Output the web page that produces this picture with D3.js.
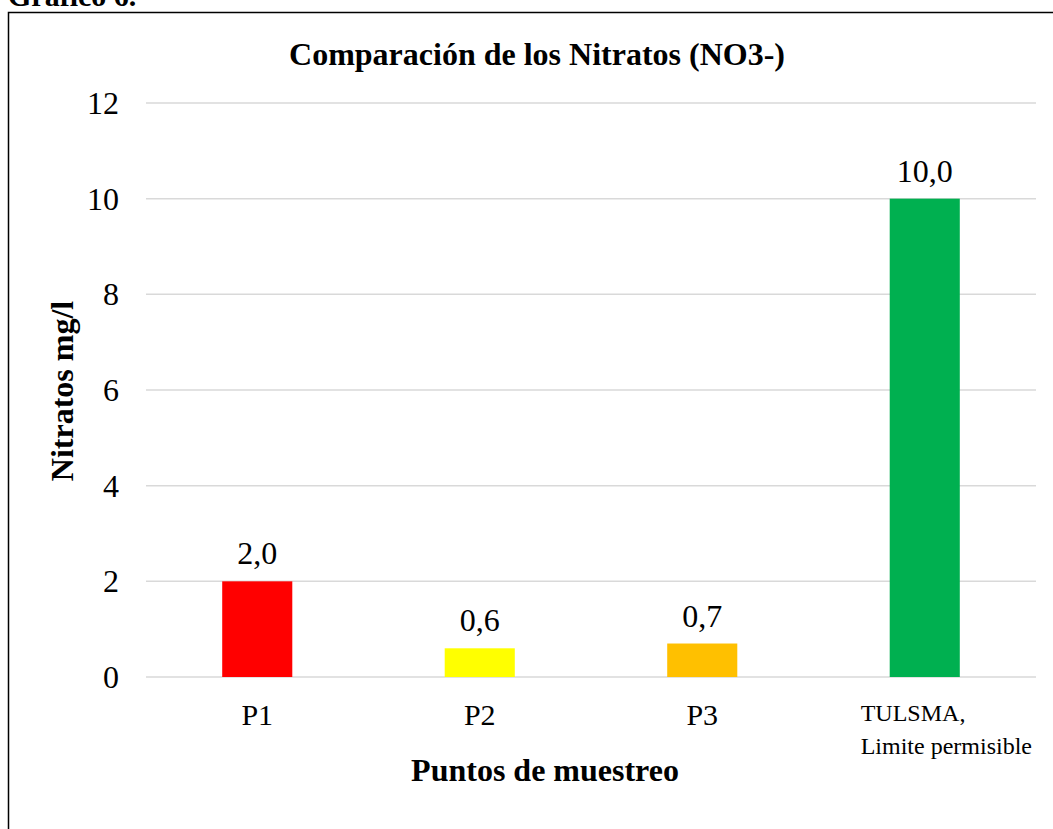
<!DOCTYPE html>
<html>
<head>
<meta charset="utf-8">
<script src="https://cdn.jsdelivr.net/npm/d3@7"></script>
<style>
  body { margin: 0; background: #fff; }
  svg { display: block; font-family: "Liberation Serif", "Times New Roman", serif; }
</style>
</head>
<body>
<svg id="chart" width="1053" height="829"></svg>
<script>
const categories = ['P1', 'P2', 'P3', 'TULSMA']
const values = [2.0, 0.6, 0.7, 10.0]
const colors = ['#ff0000', '#ffff00', '#ffc000', '#00b050']
const yTicks = [0, 2, 4, 6, 8, 10, 12]

let svg = d3.select('#chart')

// outer frame and caption
svg.append('rect')
  .attr('x', 8.5).attr('y', 12.5)
  .attr('width', 1060).attr('height', 830)
  .attr('fill', 'none').attr('stroke', '#000').attr('stroke-width', 1.5)

svg.append('text')
  .attr('x', 8).attr('y', 6)
  .attr('font-size', 30).attr('font-weight', 'bold')
  .text('Gráfico 6.')

let x = d3.scaleBand()
  .domain(categories)
  .range([146, 1036])
  .paddingInner(0.685)
  .paddingOuter(0.3425)

let y = d3.scaleLinear()
  .domain([0, 12])
  .range([677, 103])

// gridlines
svg.append('g')
  .selectAll('line')
  .data(yTicks)
  .enter().append('line')
    .attr('x1', 146).attr('x2', 1036)
    .attr('y1', d => y(d)).attr('y2', d => y(d))
    .attr('stroke', '#d9d9d9').attr('stroke-width', 1.5)

// y tick labels
svg.append('g')
  .selectAll('text')
  .data(yTicks)
  .enter().append('text')
    .attr('x', 119)
    .attr('y', d => y(d) + 11)
    .attr('text-anchor', 'end')
    .attr('font-size', 32)
    .text(d => d)

// bars
svg.append('g')
  .selectAll('rect')
  .data(values)
  .enter().append('rect')
    .attr('x', (d, i) => x(categories[i]))
    .attr('width', x.bandwidth())
    .attr('y', d => y(d))
    .attr('height', d => y(0) - y(d))
    .attr('fill', (d, i) => colors[i])

// value labels
svg.append('g')
  .selectAll('text')
  .data(values)
  .enter().append('text')
    .attr('x', (d, i) => x(categories[i]) + x.bandwidth() / 2)
    .attr('y', d => y(d) - 17)
    .attr('text-anchor', 'middle')
    .attr('font-size', 32)
    .text(d => d.toFixed(1).replace('.', ','))

// category labels
svg.append('g')
  .selectAll('text')
  .data(categories.slice(0, 3))
  .enter().append('text')
    .attr('x', d => x(d) + x.bandwidth() / 2)
    .attr('y', 725)
    .attr('text-anchor', 'middle')
    .attr('font-size', 30)
    .text(d => d)

let tl = svg.append('text')
  .attr('x', x('TULSMA') - 29)
  .attr('y', 721)
  .attr('font-size', 24)
tl.append('tspan').text('TULSMA,')
tl.append('tspan').attr('x', x('TULSMA') - 29).attr('dy', 33).text('Limite permisible')

// titles
svg.append('text')
  .attr('x', 537).attr('y', 65)
  .attr('text-anchor', 'middle')
  .attr('font-size', 32).attr('font-weight', 'bold')
  .text('Comparación de los Nitratos (NO3-)')

svg.append('text')
  .attr('x', 545).attr('y', 781)
  .attr('text-anchor', 'middle')
  .attr('font-size', 32).attr('font-weight', 'bold')
  .text('Puntos de muestreo')

svg.append('text')
  .attr('transform', 'translate(73,391) rotate(-90)')
  .attr('text-anchor', 'middle')
  .attr('font-size', 32).attr('font-weight', 'bold')
  .text('Nitratos mg/l')
</script>
</body>
</html>
